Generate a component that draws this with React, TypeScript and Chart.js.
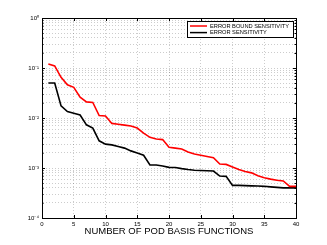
import React, { useEffect, useRef } from 'react';
import { Chart, registerables } from 'chart.js';

Chart.register(...registerables);

const basisCounts = [1, 2, 3, 4, 5, 6, 7, 8, 9, 10, 11, 12, 13, 14, 15, 16, 17, 18, 19, 20, 21, 22, 23, 24, 25, 26, 27, 28, 29, 30, 31, 32, 33, 34, 35, 36, 37, 38, 39, 40];
const errorBoundSensitivity = [0.12, 0.11, 0.065, 0.046, 0.041, 0.026, 0.021, 0.0205, 0.0112, 0.011, 0.0078, 0.0075, 0.0072, 0.0069, 0.0063, 0.005, 0.0041, 0.0038, 0.0037, 0.0026, 0.0025, 0.0024, 0.0021, 0.0019, 0.0018, 0.0017, 0.0016, 0.0012, 0.00118, 0.00105, 0.00093, 0.00085, 0.0008, 0.0007, 0.00064, 0.0006, 0.00057, 0.00055, 0.00043, 0.00043];
const errorSensitivity = [0.05, 0.05, 0.0175, 0.0135, 0.0125, 0.0115, 0.0073, 0.0063, 0.0035, 0.003, 0.0029, 0.0027, 0.0025, 0.0022, 0.002, 0.0018, 0.00115, 0.00115, 0.0011, 0.00103, 0.00102, 0.00097, 0.00093, 0.0009, 0.00089, 0.00088, 0.00087, 0.00069, 0.00068, 0.00045, 0.00045, 0.000445, 0.00044, 0.000435, 0.00043, 0.00042, 0.00041, 0.0004, 0.0004, 0.0004];
const xTicks = [0, 5, 10, 15, 20, 25, 30, 35, 40];
const yDecades = [1e-4, 1e-3, 1e-2, 1e-1, 1];
const yDecadeLabels = ['10\u207B\u2074', '10\u207B\u00B3', '10\u207B\u00B2', '10\u207B\u00B9', '10\u2070'];
const seriesLabels = ['ERROR BOUND SENSITIVITY', 'ERROR SENSITIVITY'];
const xTitle = 'NUMBER OF POD BASIS FUNCTIONS';

const FONT = '"Liberation Sans", Arial, Helvetica, sans-serif';

function buildYTicks() {
  const vals: number[] = [];
  for (let i = 0; i < yDecades.length; i++) {
    const d = yDecades[i];
    vals.push(d);
    if (i < yDecades.length - 1) {
      for (let m = 2; m <= 9; m++) vals.push(d * m);
    }
  }
  return vals;
}

function decadeIndex(v: number) {
  for (let i = 0; i < yDecades.length; i++) {
    if (Math.abs(Math.log10(v) - Math.log10(yDecades[i])) < 1e-6) return i;
  }
  return -1;
}

const boxPlugin = {
  id: 'boxAndLegend',
  afterDraw(chart: any) {
    const { ctx, chartArea } = chart;
    const { left, right, top, bottom } = chartArea;
    const xs = chart.scales.x;
    const ys = chart.scales.y;
    ctx.save();
    ctx.strokeStyle = '#000';
    ctx.lineWidth = 1;
    ctx.setLineDash([]);
    ctx.strokeRect(Math.round(left) + 0.5, Math.round(top) + 0.5, Math.round(right - left), Math.round(bottom - top));
    ctx.beginPath();
    xs.ticks.forEach((t: any) => {
      const x = Math.round(xs.getPixelForValue(t.value)) + 0.5;
      ctx.moveTo(x, bottom);
      ctx.lineTo(x, bottom - 3);
      ctx.moveTo(x, top);
      ctx.lineTo(x, top + 3);
    });
    ys.ticks.forEach((t: any) => {
      const y = Math.round(ys.getPixelForValue(t.value)) + 0.5;
      const len = decadeIndex(t.value) >= 0 ? 3 : 1.5;
      ctx.moveTo(left, y);
      ctx.lineTo(left + len, y);
      ctx.moveTo(right, y);
      ctx.lineTo(right - len, y);
    });
    ctx.stroke();

    // legend
    const bx = right - 109;
    const by = top + 3;
    const bw = 106;
    const bh = 16;
    ctx.fillStyle = '#fff';
    ctx.fillRect(bx, by, bw, bh);
    ctx.strokeRect(Math.round(bx) + 0.5, Math.round(by) + 0.5, bw, bh);
    ctx.font = `5.7px ${FONT}`;
    ctx.textBaseline = 'middle';
    ctx.textAlign = 'left';
    chart.data.datasets.forEach((ds: any, i: number) => {
      const y = by + 5 + i * 6.6;
      ctx.strokeStyle = ds.borderColor;
      ctx.lineWidth = 1.5;
      ctx.beginPath();
      ctx.moveTo(bx + 3, y);
      ctx.lineTo(bx + 20, y);
      ctx.stroke();
      ctx.fillStyle = '#000';
      ctx.fillText(ds.label, bx + 23, y);
    });
    ctx.restore();
  },
};

export default function App() {
  const ref = useRef<HTMLCanvasElement | null>(null);
  useEffect(() => {
    document.body.style.margin = '0';
    if (!ref.current) return;
    Chart.defaults.font.family = FONT;
    const yTicks = buildYTicks();
    const chart = new Chart(ref.current, {
      type: 'line',
      data: {
        datasets: [
          {
            label: seriesLabels[0],
            data: basisCounts.map((n, i) => ({ x: n, y: errorBoundSensitivity[i] })),
            borderColor: '#ff0000',
            borderWidth: 1.6,
            pointRadius: 0,
            tension: 0,
            fill: false,
          },
          {
            label: seriesLabels[1],
            data: basisCounts.map((n, i) => ({ x: n, y: errorSensitivity[i] })),
            borderColor: '#000000',
            borderWidth: 1.6,
            pointRadius: 0,
            tension: 0,
            fill: false,
          },
        ],
      },
      options: {
        animation: false,
        responsive: false,
        devicePixelRatio: 1,
        layout: { padding: { top: 18, right: 31, left: 0, bottom: 8 } },
        plugins: { legend: { display: false }, tooltip: { enabled: false } },
        scales: {
          x: {
            type: 'linear',
            min: 0,
            max: 40,
            afterBuildTicks: (s: any) => {
              s.ticks = xTicks.map((v) => ({ value: v }));
            },
            afterFit: (s: any) => {
              s.height = 19;
            },
            grid: { color: 'rgba(0,0,0,0.25)', lineWidth: 0.8, drawTicks: false },
            border: { color: '#000', width: 1, dash: [1, 2] },
            ticks: {
              color: '#000',
              font: { size: 6 },
              padding: 3,
              autoSkip: false,
              maxRotation: 0,
              callback: (v: any) => String(v),
            },
            title: {
              display: true,
              text: xTitle,
              color: '#000',
              font: { size: 9.5 },
              padding: { top: 0, bottom: 0 },
            },
          },
          y: {
            type: 'logarithmic',
            min: 1e-4,
            max: 1,
            afterBuildTicks: (s: any) => {
              s.ticks = yTicks.map((v) => ({ value: v }));
            },
            afterFit: (s: any) => {
              s.width = 42;
            },
            grid: { color: 'rgba(0,0,0,0.25)', lineWidth: 0.8, drawTicks: false },
            border: { color: '#000', width: 1, dash: [1, 2] },
            ticks: {
              color: '#000',
              font: { size: 6 },
              padding: 3,
              autoSkip: false,
              callback: (v: any) => {
                const i = decadeIndex(Number(v));
                return i >= 0 ? yDecadeLabels[i] : '';
              },
            },
          },
        },
      },
      plugins: [boxPlugin],
    } as any);
    return () => chart.destroy();
  }, []);
  return (
    <div style={{ position: 'absolute', left: 0, top: 0, width: 327, height: 245, background: '#fff' }}>
      <canvas ref={ref} width={327} height={245} />
    </div>
  );
}
